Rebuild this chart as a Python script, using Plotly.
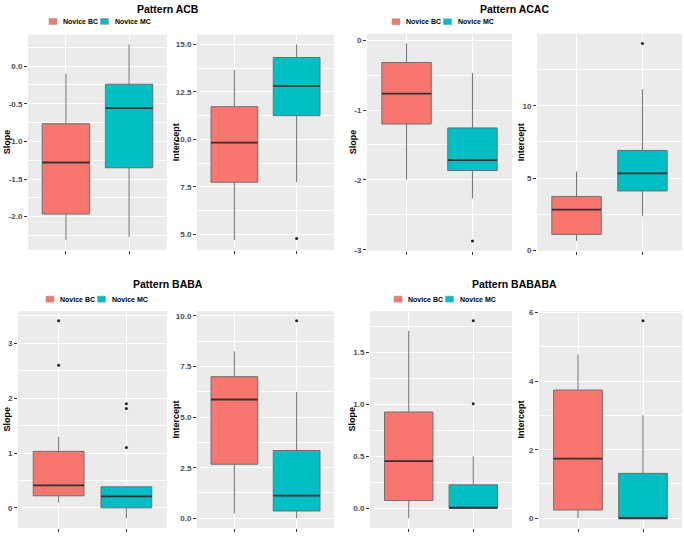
import plotly.graph_objects as go

W, H = 684, 542
groups = ["Novice BC", "Novice MC"]
colors = ["#F8766D", "#00BFC4"]
positions = [1, 2]

# stats per group: [lower whisker, q1, median, q3, upper whisker]
acb_slope = [[-2.31, -1.965, -1.28, -0.765, -0.10], [-2.27, -1.35, -0.557, -0.24, 0.29]]
acb_slope_out = [[], []]
acb_int = [[4.71, 7.75, 9.83, 11.72, 13.63], [7.75, 11.25, 12.82, 14.31, 15.0]]
acb_int_out = [[], [4.79]]

acac_slope = [[-1.997, -1.20, -0.764, -0.319, -0.047], [-2.264, -1.866, -1.716, -1.256, -0.469]]
acac_slope_out = [[], [-2.873]]
acac_int = [[0.66, 1.11, 2.82, 3.73, 5.45], [2.36, 4.11, 5.32, 6.91, 11.14]]
acac_int_out = [[], [14.3]]

baba_slope = [[0.10, 0.22, 0.41, 1.03, 1.30], [-0.19, 0.0, 0.21, 0.383, 0.40]]
baba_slope_out = [[2.60, 3.41], [1.10, 1.81, 1.90]]
baba_int = [[0.24, 2.67, 5.87, 7.0, 8.25], [0.0, 0.36, 1.12, 3.35, 6.24]]
baba_int_out = [[], [9.76]]

bababa_slope = [[-0.095, 0.076, 0.455, 0.928, 1.71], [0.0, 0.0, 0.006, 0.227, 0.50]]
bababa_slope_out = [[], [1.007, 1.806]]
bababa_int = [[0.0, 0.24, 1.74, 3.74, 4.78], [0.0, 0.0, 0.0, 1.31, 3.01]]
bababa_int_out = [[], [5.76]]

acb_slope_ticks = [-2.0, -1.5, -1.0, -0.5, 0.0]
acb_int_ticks = [5.0, 7.5, 10.0, 12.5, 15.0]
acac_slope_ticks = [-3, -2, -1, 0]
acac_int_ticks = [0, 5, 10]
baba_slope_ticks = [0, 1, 2, 3]
baba_int_ticks = [0.0, 2.5, 5.0, 7.5, 10.0]
bababa_slope_ticks = [0.0, 0.5, 1.0, 1.5]
bababa_int_ticks = [0, 2, 4, 6]

patterns = ["Pattern ACB", "Pattern ACAC", "Pattern BABA", "Pattern BABABA"]

# layout (pixels)
panels = [
    # stats, outliers, ticks, decimals, ylabel, (x0,x1,y0,y1), title x
    (acb_slope, acb_slope_out, acb_slope_ticks, 1, "Slope", (28, 167, 32, 250), 7),
    (acb_int, acb_int_out, acb_int_ticks, 1, "Intercept", (197, 334, 32, 250), 176),
    (acac_slope, acac_slope_out, acac_slope_ticks, 0, "Slope", (367, 512, 31, 251), 353),
    (acac_int, acac_int_out, acac_int_ticks, 0, "Intercept", (537, 682, 31, 251), 521),
    (baba_slope, baba_slope_out, baba_slope_ticks, 0, "Slope", (18, 167, 312, 532), 7),
    (baba_int, baba_int_out, baba_int_ticks, 1, "Intercept", (197, 334, 312, 532), 176),
    (bababa_slope, bababa_slope_out, bababa_slope_ticks, 1, "Slope", (370, 512, 312, 532), 352),
    (bababa_int, bababa_int_out, bababa_int_ticks, 0, "Intercept", (539, 682, 312, 532), 521),
]
title_pos = [(168, 6), (514, 6), (168, 285), (514, 285)]
legend_pos = [(49, 18.7), (392, 19), (46, 300), (394, 300)]

BOXW = 0.75
FONT = "Liberation Sans, Arial, sans-serif"

fig = go.Figure()
annotations = []
shapes = []
layout = {}

for i, (stats, outs, ticks, dec, ylab, (x0, x1, y0, y1), tx) in enumerate(panels):
    n = i + 1
    xa = "x" if n == 1 else f"x{n}"
    ya = "y" if n == 1 else f"y{n}"
    for g in range(2):
        s = stats[g]
        fig.add_trace(go.Box(
            x=[positions[g]], lowerfence=[s[0]], q1=[s[1]], median=[s[2]],
            q3=[s[3]], upperfence=[s[4]], width=BOXW, whiskerwidth=0,
            fillcolor=colors[g], line=dict(color="#707070", width=1),
            boxpoints=False, name=groups[g], showlegend=False,
            hoverinfo="skip", xaxis=xa, yaxis=ya))
        fig.add_trace(go.Scatter(
            x=[positions[g] - BOXW / 2, positions[g] + BOXW / 2], y=[s[2], s[2]],
            mode="lines", line=dict(color="#333333", width=1.8),
            showlegend=False, hoverinfo="skip", xaxis=xa, yaxis=ya))
        if outs[g]:
            fig.add_trace(go.Scatter(
                x=[positions[g]] * len(outs[g]), y=outs[g], mode="markers",
                marker=dict(color="#222222", size=3), showlegend=False,
                hoverinfo="skip", xaxis=xa, yaxis=ya))
    allv = [v for s in stats for v in s] + [v for o in outs for v in o]
    lo, hi = min(allv), max(allv)
    span = hi - lo
    rng = [lo - 0.05 * span, hi + 0.05 * span]
    d = ticks[1] - ticks[0]
    minor_vals = [ticks[0] + (k + 0.5) * d for k in range(-3, len(ticks) + 2)]
    minor_vals = [m for m in minor_vals if rng[0] <= m <= rng[1]]
    ticktext = [f"{t:.{dec}f}" for t in ticks]
    xkey = "xaxis" if n == 1 else f"xaxis{n}"
    ykey = "yaxis" if n == 1 else f"yaxis{n}"
    layout[xkey] = dict(
        domain=[x0 / W, x1 / W], anchor=ya, range=[0.4, 2.6],
        tickvals=positions, ticktext=["", ""], ticks="outside", ticklen=3,
        tickcolor="#333333", showgrid=True, gridcolor="white", gridwidth=1.2,
        zeroline=False, showline=False, fixedrange=True)
    layout[ykey] = dict(
        domain=[1 - y1 / H, 1 - y0 / H], anchor=xa, range=rng,
        tickvals=ticks, ticktext=ticktext, ticks="outside", ticklen=3,
        tickcolor="#333333", showgrid=True, gridcolor="white", gridwidth=1.2,
        zeroline=False, showline=False,
        tickfont=dict(family=FONT, size=8, color="#4D4D4D", weight="bold"),
        minor=dict(tickvals=minor_vals, showgrid=True, gridcolor="white",
                   gridwidth=0.6, ticks=""),
        fixedrange=True)
    annotations.append(dict(
        x=tx / W, y=1 - (y0 + y1) / 2 / H, xref="paper", yref="paper",
        text=ylab, textangle=-90, showarrow=False, xanchor="center",
        yanchor="middle", font=dict(family=FONT, size=9, color="black", weight="bold")))

for p, (tx, ty) in enumerate(title_pos):
    annotations.append(dict(
        x=tx / W, y=1 - ty / H, xref="paper", yref="paper", text=patterns[p],
        showarrow=False, xanchor="center", yanchor="middle",
        font=dict(family=FONT, size=10.5, color="black", weight="bold")))

for p, (lx, ly) in enumerate(legend_pos):
    for g in range(2):
        kx = lx + g * 51.5
        shapes.append(dict(
            type="rect", xref="paper", yref="paper",
            x0=kx / W, x1=(kx + 8) / W, y0=1 - (ly + 3) / H, y1=1 - (ly - 3) / H,
            fillcolor=colors[g], line=dict(color="#9a9a9a", width=0.6)))
        annotations.append(dict(
            x=(kx + 12) / W, y=1 - ly / H, xref="paper", yref="paper",
            text=groups[g], showarrow=False, xanchor="left", yanchor="middle",
            font=dict(family=FONT, size=7, color="black", weight="bold")))

fig.update_layout(
    width=W, height=H, margin=dict(l=0, r=0, t=0, b=0),
    paper_bgcolor="white", plot_bgcolor="#EBEBEB", showlegend=False,
    boxmode="overlay", annotations=annotations, shapes=shapes, **layout)

fig.write_html("out.html", config={"displayModeBar": False},
               post_script="document.body.style.margin='0px';document.body.style.overflow='hidden';")
